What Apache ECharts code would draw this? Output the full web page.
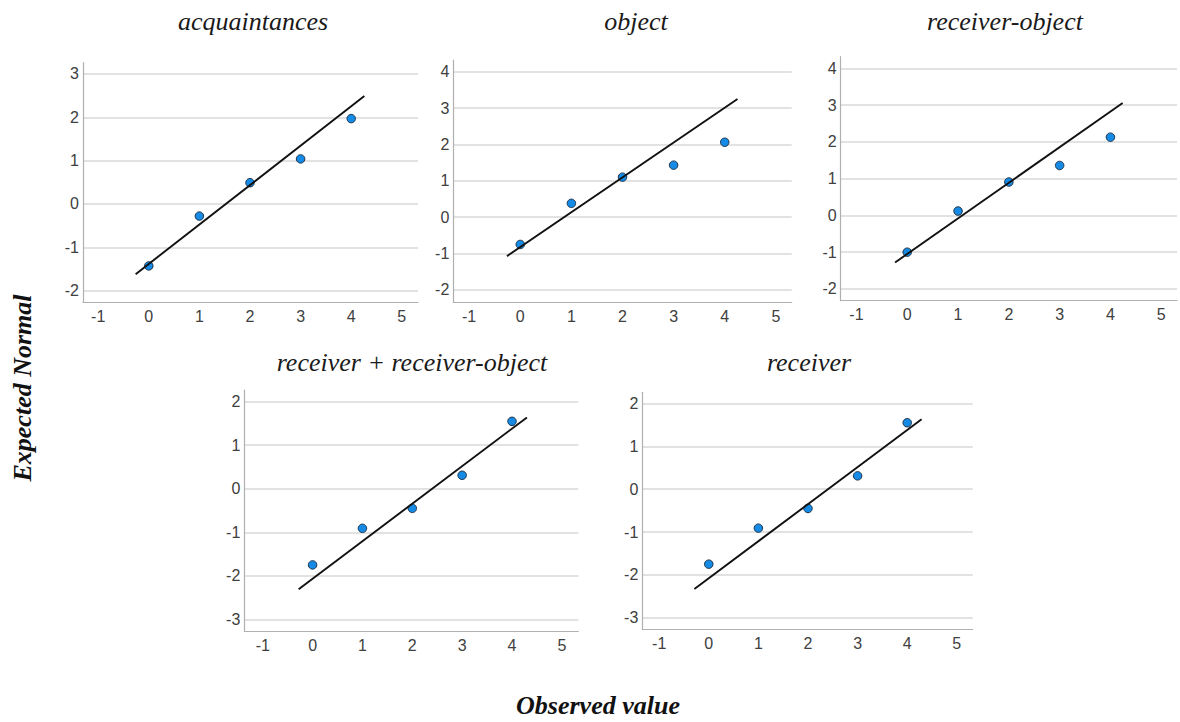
<!DOCTYPE html>
<html><head><meta charset="utf-8">
<script src="https://cdn.jsdelivr.net/npm/echarts@6.0.0/dist/echarts.min.js"></script>
<style>html,body{margin:0;padding:0;background:#fff}#c{width:1180px;height:722px}</style>
</head><body><div id="c"></div>
<script>
// ---- data ----
const panelTitles = ['acquaintances', 'object', 'receiver-object', 'receiver + receiver-object', 'receiver'];
const observedValues = [0, 1, 2, 3, 4];
const expAcquaintances = [-1.43, -0.28, 0.49, 1.04, 1.97];
const expObject = [-0.75, 0.38, 1.10, 1.43, 2.06];
const expReceiverObject = [-1.00, 0.12, 0.91, 1.36, 2.13];
const expReceiverPlusRO = [-1.75, -0.91, -0.45, 0.31, 1.55];
const expReceiver = [-1.75, -0.91, -0.45, 0.31, 1.55];
// reference (normal) line endpoints
const lineAcquaintancesX = [-0.26, 4.26], lineAcquaintancesY = [-1.62, 2.49];
const lineObjectX = [-0.26, 4.25], lineObjectY = [-1.07, 3.25];
const lineReceiverObjectX = [-0.24, 4.24], lineReceiverObjectY = [-1.28, 3.06];
const lineReceiverPlusROX = [-0.28, 4.30], lineReceiverPlusROY = [-2.31, 1.64];
const lineReceiverX = [-0.29, 4.29], lineReceiverY = [-2.33, 1.63];
const xAxisTitle = 'Observed value';
const yAxisTitle = 'Expected Normal';

// ---- layout ----
const panels = [
  { exp: expAcquaintances, lx: lineAcquaintancesX, ly: lineAcquaintancesY,
    grid: { left: 83, top: 62.7, width: 335, height: 239.6 }, x: [-1.30, 5.32], y: [-2.27, 3.26], title: [253, 21] },
  { exp: expObject, lx: lineObjectX, ly: lineObjectY,
    grid: { left: 453.3, top: 60, width: 338.4, height: 242.3 }, x: [-1.31, 5.31], y: [-2.34, 4.32], title: [636, 21] },
  { exp: expReceiverObject, lx: lineReceiverObjectX, ly: lineReceiverObjectY,
    grid: { left: 840.7, top: 56.7, width: 336.8, height: 244 }, x: [-1.31, 5.31], y: [-2.32, 4.32], title: [1005, 21] },
  { exp: expReceiverPlusRO, lx: lineReceiverPlusROX, ly: lineReceiverPlusROY,
    grid: { left: 244.3, top: 390, width: 334, height: 241 }, x: [-1.37, 5.33], y: [-3.27, 2.27], title: [412, 362] },
  { exp: expReceiver, lx: lineReceiverX, ly: lineReceiverY,
    grid: { left: 642.3, top: 392.3, width: 330.4, height: 237 }, x: [-1.34, 5.32], y: [-3.27, 2.26], title: [809, 362] }
];

const intLabel = v => (Math.abs(v - Math.round(v)) < 1e-6 ? '{t|' + Math.round(v) + '}' : '');
const tickRich = { t: { color: '#404040', fontSize: 16, fontFamily: 'Arial', lineHeight: 18 } };
const labelStyle = { color: '#404040', fontSize: 16, fontFamily: 'Arial', formatter: intLabel, rich: tickRich };

const grids = [], xAxes = [], yAxes = [], series = [], graphics = [];
panels.forEach((p, i) => {
  grids.push(Object.assign({ containLabel: false }, p.grid));
  xAxes.push({
    type: 'value', gridIndex: i, min: p.x[0], max: p.x[1], minInterval: 1, maxInterval: 1,
    axisLine: { show: true, onZero: false, lineStyle: { color: '#b0b0b0', width: 1.2 } },
    axisTick: { show: false }, splitLine: { show: false },
    axisLabel: Object.assign({ margin: 5 }, labelStyle)
  });
  yAxes.push({
    type: 'value', gridIndex: i, min: p.y[0], max: p.y[1], minInterval: 1, maxInterval: 1,
    axisLine: { show: true, onZero: false, lineStyle: { color: '#b0b0b0', width: 1.2 } },
    axisTick: { show: false },
    splitLine: { show: true, showMinLine: false, showMaxLine: false, lineStyle: { color: '#d8d8d8', width: 1.5 } },
    axisLabel: Object.assign({ margin: 4 }, labelStyle)
  });
  series.push({
    type: 'scatter', xAxisIndex: i, yAxisIndex: i, z: 2,
    data: observedValues.map((x, k) => [x, p.exp[k]]),
    symbol: 'circle', symbolSize: 8.5,
    itemStyle: { color: '#168be6', borderColor: '#14263a', borderWidth: 0.9, opacity: 1 }
  });
  series.push({
    type: 'line', xAxisIndex: i, yAxisIndex: i, z: 3, silent: true,
    data: p.lx.map((x, k) => [x, p.ly[k]]),
    symbol: 'none', lineStyle: { color: '#111', width: 1.9 }
  });
  graphics.push({
    type: 'text', x: p.title[0], y: p.title[1],
    style: { text: panelTitles[i], fill: '#1a1a1a', font: 'italic 26px "Liberation Serif", "Times New Roman", serif',
      align: 'center', verticalAlign: 'middle' }
  });
});
graphics.push({
  type: 'text', x: 598, y: 705,
  style: { text: xAxisTitle, fill: '#111', font: 'italic bold 26px "Liberation Serif", "Times New Roman", serif',
    align: 'center', verticalAlign: 'middle' }
});
graphics.push({
  type: 'text', x: 22, y: 388, rotation: Math.PI / 2,
  style: { text: yAxisTitle, fill: '#111', font: 'italic bold 26px "Liberation Serif", "Times New Roman", serif',
    align: 'center', verticalAlign: 'middle' }
});

const chart = echarts.init(document.getElementById('c'), null, { renderer: 'svg', width: 1180, height: 722 });
chart.setOption({
  animation: false,
  backgroundColor: '#ffffff',
  textStyle: { fontFamily: 'Arial' },
  grid: grids, xAxis: xAxes, yAxis: yAxes, series: series, graphic: graphics
});
</script></body></html>
